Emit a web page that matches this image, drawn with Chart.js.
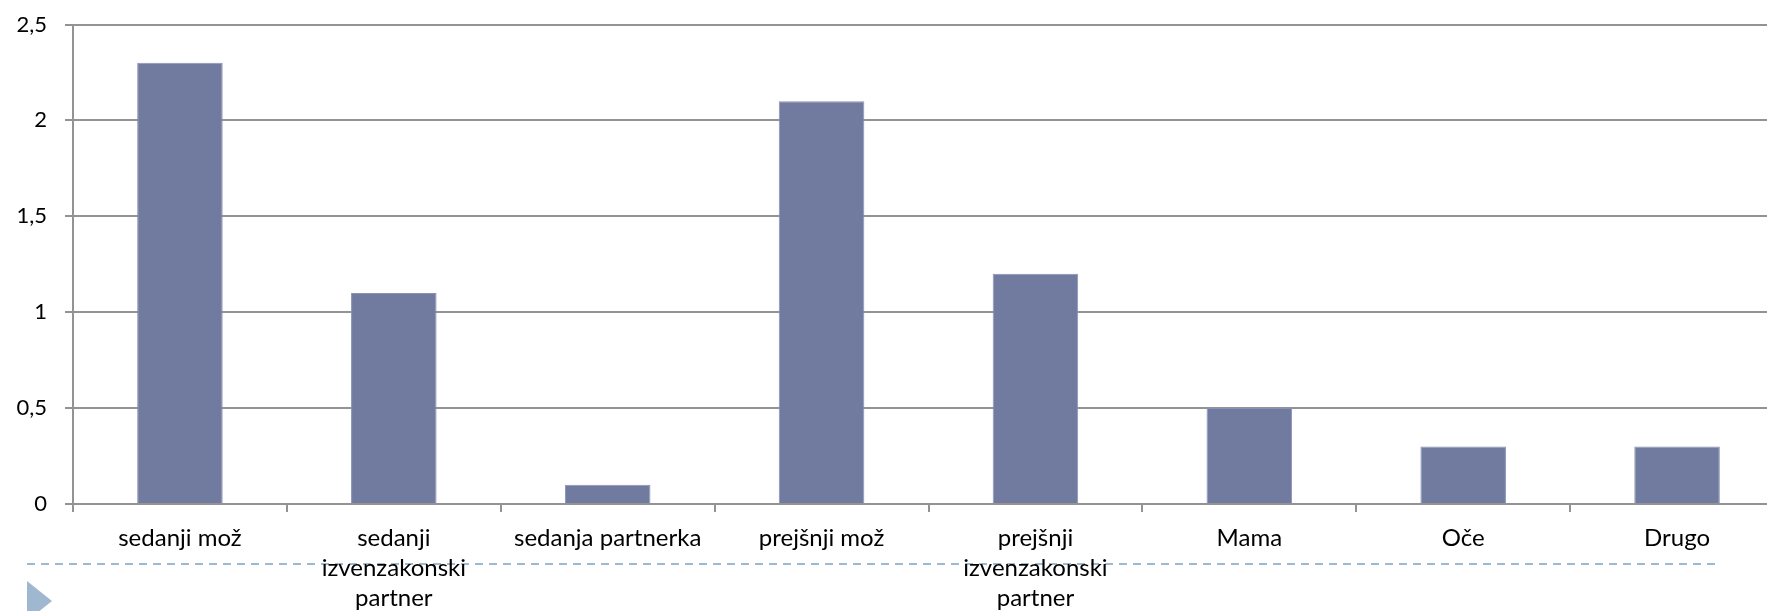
<!DOCTYPE html>
<html>
<head>
<meta charset="utf-8">
<script src="https://cdn.jsdelivr.net/npm/chart.js@4"></script>
<style>
  html, body { margin: 0; padding: 0; background: #fff; overflow: hidden; width: 1767px; height: 611px; }
  #c { display: block; position: absolute; left: 0; top: -9px; }
</style>
</head>
<body>
<canvas id="c" width="1784" height="620"></canvas>
<script>
const categories = [
  'sedanji mož',
  ['sedanji', 'izvenzakonski', 'partner'],
  'sedanja partnerka',
  'prejšnji mož',
  ['prejšnji', 'izvenzakonski', 'partner'],
  'Mama',
  'Oče',
  'Drugo'
];
const values = [2.3, 1.1, 0.1, 2.1, 1.2, 0.5, 0.3, 0.3];
const yTickValues = [0, 0.5, 1, 1.5, 2, 2.5];
const yTickLabels = ['0', '0,5', '1', '1,5', '2', '2,5'];

const FONT = 'Lato, "Open Sans", sans-serif';
const OFFSET_Y = 9; // canvas is shifted up by this many pixels on the page

const slideDecor = {
  id: 'slideDecor',
  beforeDraw(chart) {
    const ctx = chart.ctx;
    ctx.save();
    ctx.translate(0, OFFSET_Y);
    ctx.strokeStyle = '#9FB9D0';
    ctx.lineWidth = 2;
    ctx.setLineDash([8, 6]);
    ctx.beginPath();
    ctx.moveTo(27, 564);
    ctx.lineTo(1715, 564);
    ctx.stroke();
    ctx.setLineDash([]);
    ctx.fillStyle = '#A0B8CF';
    ctx.beginPath();
    ctx.moveTo(27, 581);
    ctx.lineTo(52, 601);
    ctx.lineTo(27, 621);
    ctx.closePath();
    ctx.fill();
    ctx.restore();
  }
};

new Chart(document.getElementById('c'), {
  type: 'bar',
  data: {
    labels: categories,
    datasets: [{
      data: values,
      backgroundColor: '#717BA0',
      borderColor: '#8A93B5',
      borderWidth: 1,
      barPercentage: 0.4,
      categoryPercentage: 1.0
    }]
  },
  options: {
    responsive: false,
    devicePixelRatio: 1,
    animation: false,
    layout: { padding: { top: 33.5, right: 0, left: 0, bottom: 0 } },
    plugins: { legend: { display: false }, tooltip: { enabled: false }, title: { display: false } },
    scales: {
      x: {
        offset: true,
        grid: { display: true, drawOnChartArea: false, drawTicks: true, tickLength: 8, color: '#939393', lineWidth: 2, offset: true },
        border: { display: true, color: '#939393', width: 2 },
        ticks: {
          color: '#000',
          font: { family: FONT, size: 24, lineHeight: 1.23 },
          padding: 12,
          maxRotation: 0,
          autoSkip: false
        },
        afterFit(axis) { axis.height = 107; }
      },
      y: {
        min: 0,
        max: 2.5,
        afterBuildTicks(axis) { axis.ticks = yTickValues.map(v => ({ value: v })); },
        grid: { color: '#939393', lineWidth: 2, tickLength: 8, drawTicks: true },
        border: { display: true, color: '#939393', width: 2 },
        ticks: {
          color: '#000',
          font: { family: FONT, size: 22 },
          padding: 18,
          callback(value) {
            const i = yTickValues.indexOf(value);
            return i >= 0 ? yTickLabels[i] : '';
          }
        },
        afterFit(axis) { axis.width = 73; }
      }
    }
  },
  plugins: [slideDecor]
});
</script>
</body>
</html>
